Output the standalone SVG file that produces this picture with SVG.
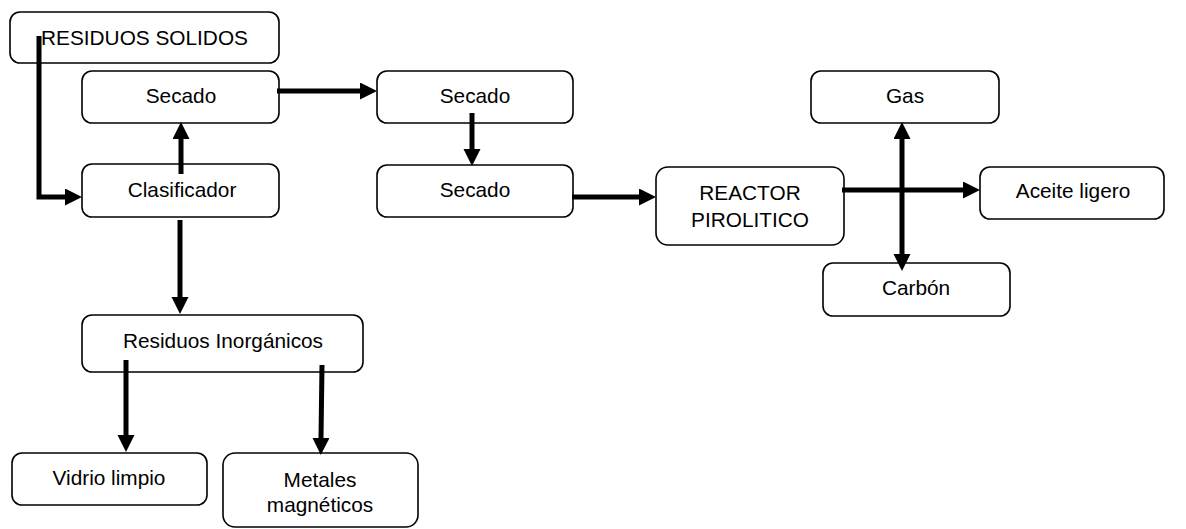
<svg xmlns="http://www.w3.org/2000/svg" width="1186" height="529" viewBox="0 0 1186 529">
<style>
.box{fill:#fff;stroke:#000;stroke-width:1.6}
.t{font-family:"Liberation Sans",Arial,sans-serif;font-size:20.8px;fill:#000;text-anchor:middle}
.c{fill:none;stroke:#000;stroke-width:5}
</style>
<defs>
<marker id="ah" markerUnits="userSpaceOnUse" markerWidth="18" markerHeight="18" refX="0" refY="8.5" orient="auto-start-reverse" viewBox="0 0 18 18">
<path d="M0,0 L17,8.5 L0,17 z" fill="#000"/>
</marker>
</defs>
<rect width="1186" height="529" fill="#fff"/>
<g id="n-residuos-solidos"><rect class="box" x="10" y="12" width="269" height="51" rx="10"/><text class="t" x="144.5" y="45">RESIDUOS SOLIDOS</text></g>
<g id="n-secado1"><rect class="box" x="82" y="71" width="197" height="52" rx="10"/><text class="t" x="181" y="103">Secado</text></g>
<g id="n-clasificador"><rect class="box" x="82" y="164" width="197" height="53" rx="10"/><text class="t" x="182" y="197">Clasificador</text></g>
<g id="n-secado2"><rect class="box" x="377" y="71" width="196" height="52" rx="10"/><text class="t" x="475" y="103">Secado</text></g>
<g id="n-secado3"><rect class="box" x="377" y="165" width="196" height="52" rx="10"/><text class="t" x="475" y="197">Secado</text></g>
<g id="n-reactor"><rect class="box" x="656" y="167" width="188" height="78" rx="12"/><text class="t" x="750" y="200">REACTOR</text><text class="t" x="750" y="227">PIROLITICO</text></g>
<g id="n-gas"><rect class="box" x="811" y="71" width="188" height="52" rx="10"/><text class="t" x="905" y="103">Gas</text></g>
<g id="n-aceite"><rect class="box" x="980" y="167" width="184" height="52" rx="10"/><text class="t" x="1073" y="198">Aceite ligero</text></g>
<g id="n-carbon"><rect class="box" x="823" y="263" width="187" height="53" rx="10"/><text class="t" x="916" y="295">Carbón</text></g>
<g id="n-inorganicos"><rect class="box" x="82" y="315" width="281" height="57" rx="10"/><text class="t" x="223" y="348">Residuos Inorgánicos</text></g>
<g id="n-vidrio"><rect class="box" x="12" y="453" width="195" height="52" rx="10"/><text class="t" x="109" y="485">Vidrio limpio</text></g>
<g id="n-metales"><rect class="box" x="223" y="453" width="195" height="74" rx="12"/><text class="t" x="320" y="487">Metales</text><text class="t" x="320" y="512">magnéticos</text></g>
<g id="connectors">
<path class="c" d="M39,36 V197 H65" marker-end="url(#ah)"/>
<path class="c" d="M181,174 V139" marker-end="url(#ah)"/>
<path class="c" d="M277,91 H360" marker-end="url(#ah)"/>
<path class="c" d="M472,113 V149" marker-end="url(#ah)"/>
<path class="c" d="M572,197 H639" marker-end="url(#ah)"/>
<path class="c" d="M842,190 H963" marker-end="url(#ah)"/>
<path class="c" d="M902,139 V254" marker-start="url(#ah)" marker-end="url(#ah)"/>
<path class="c" d="M180,220 V297" marker-end="url(#ah)"/>
<path class="c" d="M126,360 V435" marker-end="url(#ah)"/>
<path class="c" d="M322,365 L321,438" marker-end="url(#ah)"/>
</g>
</svg>
